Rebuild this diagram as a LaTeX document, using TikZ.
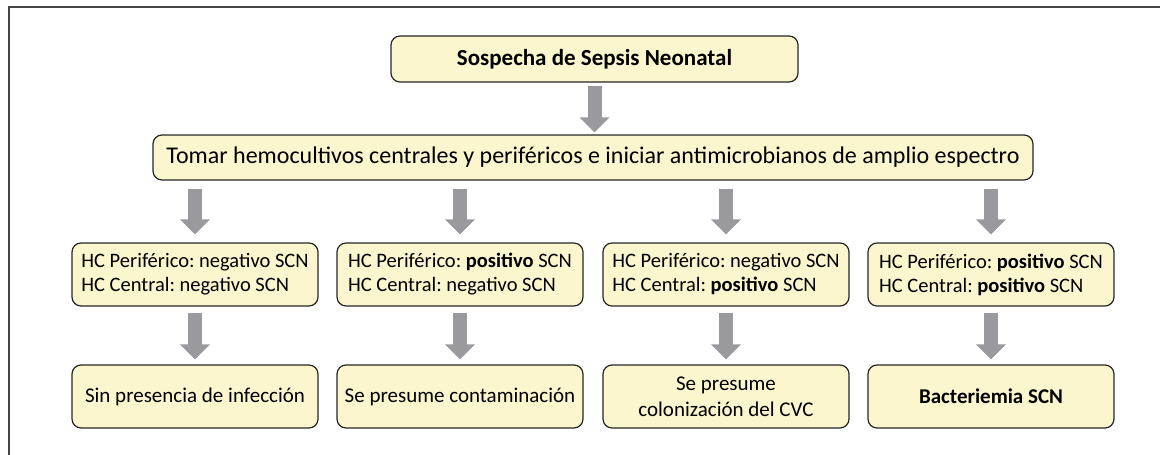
\documentclass[tikz,border=0pt]{standalone}
\usepackage{fontspec}
\setmainfont{Carlito}
\frenchspacing
\usetikzlibrary{arrows.meta}
\definecolor{boxfill}{RGB}{251,246,206}
\definecolor{arrowgray}{RGB}{153,153,158}
\definecolor{framegray}{RGB}{70,70,70}
\begin{document}
\begin{tikzpicture}[x=1pt,y=-1pt,every node/.style={font=\fontsize{20.5}{24}\selectfont},line width=1.2pt]
\tikzset{box/.style={draw=black!85,fill=boxfill,rounded corners=9pt,align=center,inner sep=2pt}, fat/.style={arrowgray,line width=14pt,-{Triangle[width=29pt,length=15pt]}}, big/.style={font=\fontsize{24}{28}\selectfont}, res/.style={font=\fontsize{21}{26}\selectfont}}
\useasboundingbox (0,0) rectangle (1160,455);
\draw[framegray,line width=1.6pt] (9,455) -- (9,7) -- (1160,7);
\node[box,minimum width=407pt,minimum height=46pt,font=\fontsize{23}{27}\selectfont\bfseries] (sosp) at (594.5,59) {Sospecha de Sepsis Neonatal};
\node[box,big,minimum width=880pt,minimum height=45pt] (hemo) at (593,157.5) {Tomar hemocultivos centrales y periféricos e iniciar antimicrobianos de amplio espectro};
% resultados de los hemocultivos
\node[box,minimum width=246pt,minimum height=63pt,align=left] (hc1) at (195,274.5) {HC Periférico: negativo SCN\\HC Central: negativo SCN};
\node[box,minimum width=246pt,minimum height=63pt,align=left] (hc2) at (460,274.5) {HC Periférico: \textbf{positivo} SCN\\HC Central: negativo SCN};
\node[box,minimum width=246pt,minimum height=63pt,align=left] (hc3) at (726,274.5) {HC Periférico: negativo SCN\\HC Central: \textbf{positivo} SCN};
\node[box,minimum width=246pt,minimum height=63pt,align=left] (hc4) at (991,274.5) {HC Periférico: \textbf{positivo} SCN\\HC Central: \textbf{positivo} SCN};
% interpretacion
\node[box,res,minimum width=246pt,minimum height=63pt] (res1) at (195,396.5) {Sin presencia de infección};
\node[box,res,minimum width=246pt,minimum height=63pt] (res2) at (460,396.5) {Se presume contaminación};
\node[box,res,minimum width=246pt,minimum height=63pt] (res3) at (726,396.5) {Se presume\\colonización del CVC};
\node[box,res,minimum width=246pt,minimum height=63pt,font=\fontsize{21}{26}\selectfont\bfseries] (res4) at (991,396.5) {Bacteriemia SCN};
\draw[fat,shorten <=3pt,shorten >=2pt] (sosp.south) -- (sosp.south |- hemo.north);
\foreach \i in {1,...,4} {
  \draw[fat,shorten <=8pt,shorten >=8pt] (hemo.south -| hc\i.north) -- (hc\i.north);
  \draw[fat,shorten <=6pt,shorten >=5pt] (hc\i.south) -- (res\i.north);
}
\end{tikzpicture}
\end{document}
